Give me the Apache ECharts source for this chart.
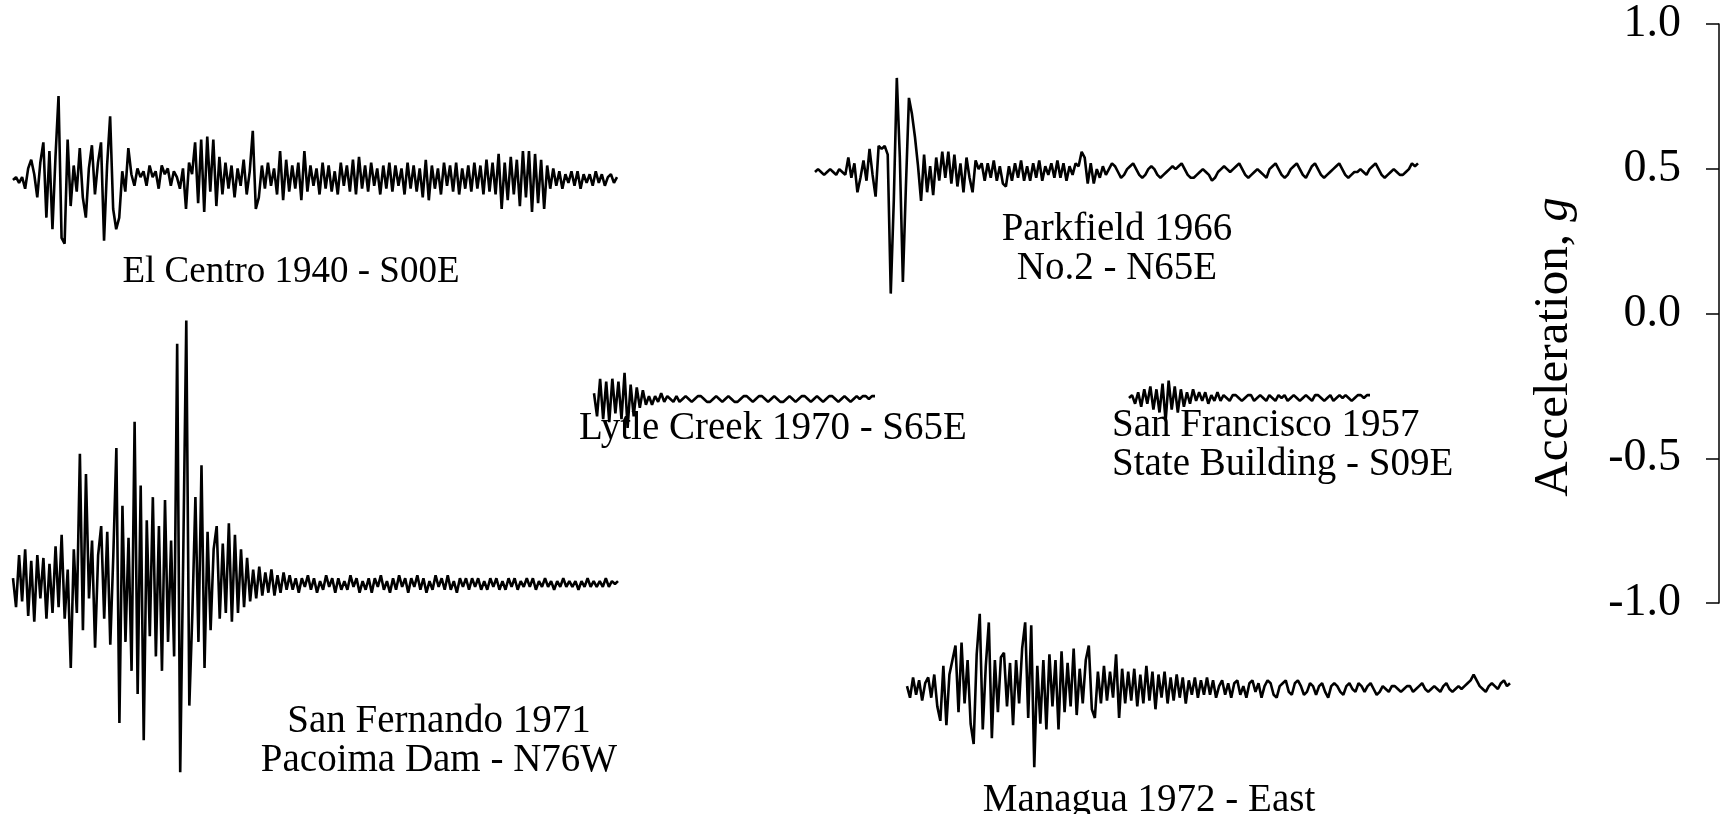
<!DOCTYPE html>
<html lang="en">
  <head>
    <meta charset="UTF-8" />
    <title>Earthquake ground accelerations</title>
    <style>
      html, body { margin: 0; padding: 0; background: #fff; }
      #container { width: 1721px; height: 814px; }
    </style>
    <script src="https://cdn.jsdelivr.net/npm/echarts@6/dist/echarts.min.js"></script>
  </head>
  <body>
    <div id="container"></div>
    <script>
      // ground acceleration in g, one sample every ~0.15 s
      const elCentro = [
        0, .01, -.01, .01, -.03, .04, .07, .02, -.06, .06,
        .13, -.13, .1, -.17, .08, .29, -.2, -.22, .14, -.09,
        .05, -.04, .11, -.06, -.13, .04, .12, -.05, .06, .13,
        -.21, .05, .22, -.1, -.17, -.13, .03, -.04, .11, .02,
        -.02, .04, .01, .03, -.02, .05, .01, .03, -.03, .05,
        .02, .04, -.02, .03, .01, -.03, .04, -.1, .06, .02,
        .13, -.08, .14, -.11, .15, -.04, .14, -.09, .08, -.05,
        .06, -.03, .05, -.06, .04, -.02, .07, -.05, .03, .17,
        -.1, -.06, .05, -.03, .06, -.02, .04, -.05, .1, -.07,
        .07, -.04, .05, -.03, .06, -.07, .1, -.04, .05, -.02,
        .04, -.05, .06, -.03, .05, -.04, .03, -.05, .06, -.02,
        .05, -.04, .07, -.05, .08, -.03, .05, -.04, .06, -.02,
        .04, -.05, .05, -.03, .06, -.04, .05, -.02, .04, -.05,
        .06, -.03, .05, -.04, .04, -.06, .07, -.07, .05, -.03,
        .04, -.05, .06, -.02, .05, -.04, .06, -.05, .04, -.03,
        .05, -.04, .06, -.03, .05, -.05, .07, -.04, .06, -.05,
        .09, -.1, .06, -.07, .08, -.05, .07, -.09, .1, -.06,
        .1, -.11, .09, -.08, .07, -.1, .05, -.03, .04, -.02,
        .03, -.03, .02, -.01, .03, -.02, .03, -.03, .02, -.01,
        .02, -.02, .03, -.01, .02, -.02, .01, .02, -.01, .01
      ]
      const parkfield = [
        0, .01, 0, -.01, 0, .01, 0, -.01, .01, 0,
        -.01, .05, -.02, .03, -.07, -.02, .04, -.03, .08, -.01,
        -.085, .09, .08, .09, .06, -.42, -.1, .325, .05, -.38,
        -.05, .256, .2, .12, .02, -.1, .06, -.07, .02, -.08,
        .05, -.03, .07, -.02, .07, -.04, .06, -.05, .03, -.07,
        .05, -.02, -.07, .04, .01, .03, -.03, .03, -.02, .04,
        -.03, .02, -.04, -.05, .02, -.03, .03, -.02, .04, -.03,
        .02, -.03, .03, -.02, .04, -.03, .02, -.01, .03, -.02,
        .04, -.02, .03, -.03, .02, -.01, .03, .02, .07, .05,
        -.04, .03, -.04, .01, -.02, .02, -.01, .01, .03, .02,
        0, -.02, -.01, .01, .02, .03, .01, -.01, -.02, -.01,
        .01, .02, .01, -.01, -.02, -.01, 0, .01, .02, .01,
        .02, .03, .01, -.01, -.02, -.02, -.01, 0, .01, 0,
        -.01, -.03, -.02, 0, .01, .02, .01, 0, .01, .02,
        .03, .01, -.01, -.02, -.01, 0, .01, 0, -.01, -.02,
        .01, .02, .03, .01, -.01, -.02, -.01, .01, .02, .03,
        .01, -.01, -.02, 0, .02, .03, .01, -.01, -.02, -.01,
        0, .01, .02, .03, .01, -.01, -.02, -.01, 0, 0,
        .01, 0, -.01, .01, .02, .03, .01, -.01, -.02, -.01,
        0, .01, 0, -.01, -.01, 0, .01, .03, .02, .03
      ]
      const sanFernando = [
        .02, -.08, .1, -.06, .12, -.11, .08, -.13, .1, -.05,
        .09, -.12, .07, -.1, .13, -.08, .17, -.12, .05, -.29,
        .12, -.1, .45, -.16, .38, -.05, .15, -.22, .1, .2,
        -.12, .18, -.21, .1, .47, -.48, .27, -.2, .16, -.3,
        .56, -.38, .34, -.54, .22, -.18, .3, -.25, .2, -.3,
        .29, -.2, .15, -.25, .83, -.65, .1, .91, -.42, -.1,
        .3, -.2, .41, -.29, .18, -.16, .12, .2, -.12, .14,
        -.1, .21, -.13, .17, -.1, .12, -.08, .09, -.06, .05,
        -.05, .06, -.04, .04, -.03, .05, -.04, .03, -.03, .04,
        -.02, .03, -.02, .02, -.03, .02, -.01, .03, -.02, .02,
        -.03, .01, -.02, .03, -.01, .02, -.03, .02, -.02, .01,
        -.02, .03, -.01, .02, -.03, .01, -.02, .02, -.03, .02,
        -.01, .03, -.02, .01, -.03, .02, -.02, .03, -.01, .02,
        -.03, .02, -.01, .03, -.02, .02, -.03, .01, -.02, .03,
        -.01, .02, -.02, .03, -.02, .01, -.03, .02, -.01, .02,
        -.02, .02, -.01, .02, -.02, .01, -.02, .02, -.01, .02,
        -.02, .01, -.02, .02, -.01, .02, -.02, .01, -.01, .02,
        -.01, .02, -.02, .01, -.01, .02, -.01, .01, -.02, .01,
        -.01, .02, -.01, .01, -.01, .01, -.02, .01, -.01, .02,
        -.01, .01, -.01, .01, -.01, .02, -.01, .01, 0, .01
      ]
      const lytleCreek = [
        .02, -.06, .07, -.07, .06, -.08, .07, -.05, .06, -.07,
        .09, -.1, .05, -.06, .04, -.03, .03, -.02, .01, -.02,
        .01, -.01, .02, -.01, .01, 0, -.01, .01, -.01, 0,
        .01, 0, -.01, 0, .01, .01, 0, -.01, -.01, 0,
        .01, 0, -.01, 0, .01, 0, -.01, -.01, 0, .01,
        .01, 0, -.01, 0, .01, .01, 0, -.01, 0, .01,
        0, -.01, -.01, 0, .01, 0, -.01, 0, .01, .01,
        0, -.01, 0, .01, 0, -.01, 0, .01, .01, 0,
        -.01, 0, .01, 0, -.01, 0, .01, 0, .01, .01,
        0, .01, .01
      ]
      const sanFrancisco = [
        0, .01, -.02, .02, -.03, .03, -.02, .04, -.04, .03,
        -.05, .05, -.08, .06, -.04, .04, -.05, .03, -.03, .02,
        -.02, .03, -.01, .02, -.01, .02, -.02, .01, -.01, .02,
        -.01, .01, 0, -.01, .01, .01, 0, -.01, 0, .01,
        .01, -.01, 0, .01, 0, -.01, .01, 0, -.01, .01,
        0, .01, -.01, 0, .01, 0, -.01, 0, .01, 0,
        -.01, .01, .01, 0, -.01, 0, .01, -.01, 0, .01,
        0, .01, 0, -.01, 0, .01, .01, 0, .01, .01
      ]
      const managua = [
        .01, -.03, .04, -.02, .03, -.04, .02, .04, -.03, .05,
        -.06, -.11, .08, -.125, .05, .1, .15, -.08, .16, -.05,
        .1, -.12, -.19, .12, .26, -.14, .08, .23, -.17, .1,
        -.08, .11, .125, -.06, .09, -.125, .1, -.05, .14, .23,
        -.1, .22, -.27, .08, -.12, .1, -.14, .12, -.06, .1,
        -.14, .13, -.08, .09, -.06, .14, -.09, .07, -.05, .1,
        .15, -.07, -.1, .06, -.05, .08, -.04, .06, -.03, .12,
        -.1, .07, -.05, .06, -.04, .07, -.06, .05, -.05, .08,
        -.04, .06, -.07, .05, -.03, .06, -.05, .04, -.04, .05,
        -.03, .04, -.05, .03, -.02, .04, -.03, .03, -.02, .04,
        -.02, .03, -.03, .01, .03, -.02, .02, -.03, .02, .03,
        -.02, .01, -.03, .02, .03, -.01, .02, -.03, .01, .03,
        .02, -.02, -.03, .01, .02, .03, -.01, -.02, .02, .03,
        .01, -.02, -.01, .02, .01, -.02, .01, .02, -.01, -.03,
        .01, .02, .01, -.01, -.02, .01, .02, 0, -.01, .02,
        .01, -.01, .01, .02, 0, -.02, -.01, .01, 0, -.01,
        .01, .01, 0, -.01, 0, .01, .01, -.01, 0, .01,
        .02, 0, -.01, 0, .01, 0, -.01, .01, .02, 0,
        -.01, 0, .01, 0, .01, .02, .03, .05, .03, .01,
        0, -.01, .01, .02, .01, 0, .02, .03, .01, .02
      ]
      const axisTicks = [-1, -0.5, 0, 0.5, 1]

      // where each record sits on the page (px), zero line = base
      const pxPerG = 289.5
      const span = 0.4 // each trace grid covers -span..span g, lines are not clipped
      const traces = [
        { data: elCentro, left: 13, width: 604, base: 180 },
        { data: parkfield, left: 815, width: 603, base: 172 },
        { data: sanFernando, left: 13, width: 605, base: 584 },
        { data: lytleCreek, left: 594, width: 281, base: 399 },
        { data: sanFrancisco, left: 1129, width: 241, base: 398 },
        { data: managua, left: 907, width: 603, base: 689 },
      ]

      const serif = '"Liberation Serif", "DejaVu Serif", serif'
      const grid = [], xAxis = [], yAxis = [], series = []
      traces.forEach((t, k) => {
        grid.push({
          left: t.left,
          width: t.width,
          top: t.base - span * pxPerG,
          height: 2 * span * pxPerG,
          outerBoundsMode: 'none',
        })
        xAxis.push({ gridIndex: k, type: 'value', min: 0, max: t.data.length - 1, show: false })
        yAxis.push({ gridIndex: k, type: 'value', min: -span, max: span, show: false })
        series.push({
          type: 'line',
          xAxisIndex: k,
          yAxisIndex: k,
          data: t.data.map((v, i) => [i, v]),
          symbol: 'none',
          clip: false,
          lineStyle: { color: '#000', width: 2.6 },
        })
      })

      // the scale bar on the right
      const k = traces.length
      grid.push({ left: 1719, width: 1, top: 24, height: 579, outerBoundsMode: 'none' })
      xAxis.push({ gridIndex: k, type: 'value', show: false })
      yAxis.push({
        gridIndex: k,
        type: 'value',
        position: 'left',
        min: axisTicks[0],
        max: axisTicks[axisTicks.length - 1],
        interval: 0.5,
        axisLine: { show: true, lineStyle: { color: '#000', width: 1.5 } },
        axisTick: { show: true, length: 13, lineStyle: { color: '#000', width: 1.5 } },
        splitLine: { show: false },
        axisLabel: {
          margin: 38,
          color: '#000',
          fontFamily: serif,
          fontSize: 46,
          formatter: (v) => v.toFixed(1),
        },
      })

      const label = (x, y, text, align, size) => ({
        type: 'text',
        x: x,
        y: y,
        style: {
          text: text,
          fill: '#000',
          font: (size || 39) + 'px ' + serif,
          align: align || 'center',
          verticalAlign: 'middle',
          lineHeight: 39,
        },
      })

      const chart = echarts.init(document.getElementById('container'))
      chart.setOption({
        backgroundColor: '#fff',
        animation: false,
        grid: grid,
        xAxis: xAxis,
        yAxis: yAxis,
        series: series,
        graphic: {
          elements: [
            label(291, 272, 'El Centro 1940 - S00E', 'center', 37),
            label(1117, 249, 'Parkfield 1966\nNo.2 - N65E'),
            label(773, 429, 'Lytle Creek 1970 - S65E'),
            label(1112, 445, 'San Francisco 1957\nState Building - S09E', 'left'),
            label(439, 741, 'San Fernando 1971\nPacoima Dam - N76W'),
            label(1149, 801, 'Managua 1972 - East'),
            {
              type: 'text',
              x: 1554,
              y: 347,
              rotation: Math.PI / 2,
              style: {
                text: 'Acceleration, {i|g}',
                fill: '#000',
                font: '49px ' + serif,
                align: 'center',
                verticalAlign: 'middle',
                rich: { i: { fontStyle: 'italic', fontSize: 49, fontFamily: serif } },
              },
            },
          ],
        },
      })
    </script>
  </body>
</html>
